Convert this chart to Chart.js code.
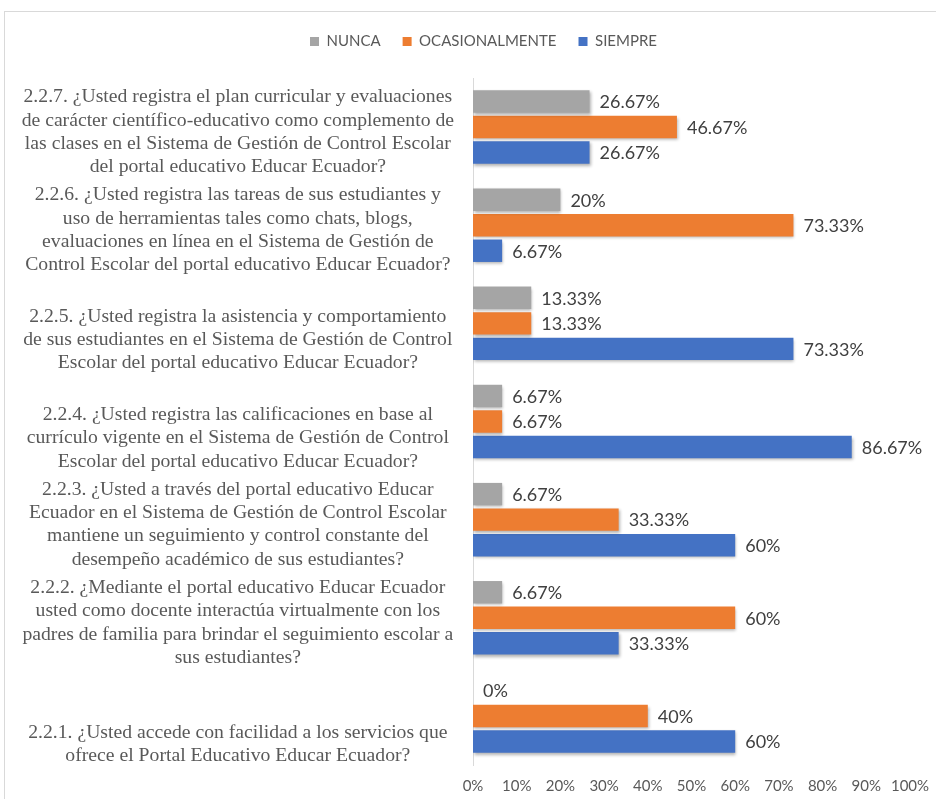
<!DOCTYPE html>
<html>
<head>
<meta charset="utf-8">
<script src="https://cdn.jsdelivr.net/npm/chart.js@4.4.1/dist/chart.umd.min.js"></script>
<style>
  html, body { margin: 0; padding: 0; background: #fff; overflow: hidden; }
  #frame { position: absolute; left: 4px; top: 11px; width: 940px; height: 800px; border: 1px solid #d9d9d9; }
  #frame canvas { display: block; }
</style>
</head>
<body>
<div id="frame"><canvas id="chart" width="931" height="787"></canvas></div>
<script>
// Categories, top to bottom (each one is a list of label lines)
const categories = [
  ['2.2.7. ¿Usted registra el plan curricular y evaluaciones',
   'de carácter científico-educativo como complemento de',
   'las clases en el Sistema de Gestión de Control Escolar',
   'del portal educativo Educar Ecuador?'],
  ['2.2.6. ¿Usted registra las tareas de sus estudiantes y',
   'uso de herramientas tales como chats, blogs,',
   'evaluaciones en línea en el Sistema de Gestión de',
   'Control Escolar del portal educativo Educar Ecuador?'],
  ['2.2.5. ¿Usted registra la asistencia y comportamiento',
   'de sus estudiantes en el Sistema de Gestión de Control',
   'Escolar del portal educativo Educar Ecuador?'],
  ['2.2.4. ¿Usted registra las calificaciones en base al',
   'currículo vigente en el Sistema de Gestión de Control',
   'Escolar del portal educativo Educar Ecuador?'],
  ['2.2.3. ¿Usted a través del portal educativo Educar',
   'Ecuador en el Sistema de Gestión de Control Escolar',
   'mantiene un seguimiento y control constante del',
   'desempeño académico de sus estudiantes?'],
  ['2.2.2. ¿Mediante el portal educativo Educar Ecuador',
   'usted como docente interactúa virtualmente con los',
   'padres de familia para brindar el seguimiento escolar a',
   'sus estudiantes?'],
  ['2.2.1. ¿Usted accede con facilidad a los servicios que',
   'ofrece el Portal Educativo Educar Ecuador?'],
];

const seriesNames = ['NUNCA', 'OCASIONALMENTE', 'SIEMPRE'];
const nunca = [26.67, 20, 13.33, 6.67, 6.67, 6.67, 0];
const ocasionalmente = [46.67, 73.33, 13.33, 6.67, 33.33, 60, 40];
const siempre = [26.67, 6.67, 73.33, 86.67, 60, 33.33, 60];

const xMin = 0;
const xMax = 100;
const xStep = 10;

const colors = ['#A5A5A5', '#ED7D31', '#4472C4'];

// labels sit at the bottom of their band, so pad each one to 4 lines
const paddedLabels = categories.map((lines) => Array(4 - lines.length).fill('').concat(lines));

// a little room under the legend, and nudge it right a bit
const legendGap = {
  id: 'legendGap',
  beforeInit(chart) {
    const fit = chart.legend.fit;
    chart.legend.fit = function () {
      fit.call(this);
      this.height += 19;
    };
  },
  afterLayout(chart) {
    chart.legend.left += 26;
    chart.legend.right += 26;
  },
};

// soft shadow under the bars + value labels
const barDecor = {
  id: 'barDecor',
  beforeDatasetsDraw(chart) {
    const ctx = chart.ctx;
    ctx.save();
    ctx.shadowColor = 'rgba(0,0,0,0.3)';
    ctx.shadowBlur = 3;
    ctx.shadowOffsetX = 1;
    ctx.shadowOffsetY = 2;
  },
  afterDatasetsDraw(chart) {
    const ctx = chart.ctx;
    ctx.restore();
    ctx.save();
    ctx.font = '18px Lato';
    ctx.fillStyle = '#404040';
    ctx.textBaseline = 'middle';
    ctx.textAlign = 'left';
    chart.data.datasets.forEach((ds, i) => {
      chart.getDatasetMeta(i).data.forEach((bar, j) => {
        ctx.fillText(ds.data[j] + '%', bar.x + 10, bar.y + 1);
      });
    });
    ctx.restore();
  },
};

new Chart(document.getElementById('chart'), {
  type: 'bar',
  data: {
    labels: paddedLabels,
    datasets: [
      { label: seriesNames[0], data: nunca, backgroundColor: colors[0] },
      { label: seriesNames[1], data: ocasionalmente, backgroundColor: colors[1] },
      { label: seriesNames[2], data: siempre, backgroundColor: colors[2] },
    ],
  },
  options: {
    indexAxis: 'y',
    responsive: false,
    animation: false,
    categoryPercentage: 0.78,
    barPercentage: 0.88,
    layout: { padding: { left: 0, right: 26, top: 0, bottom: 4 } },
    plugins: {
      tooltip: { enabled: false },
      legend: {
        position: 'top',
        labels: {
          boxWidth: 9,
          boxHeight: 9,
          padding: 22,
          color: '#595959',
          font: { family: 'Lato', size: 15 },
        },
      },
    },
    scales: {
      x: {
        min: xMin,
        max: xMax,
        grid: { display: false, drawTicks: false },
        border: { display: false },
        ticks: {
          stepSize: xStep,
          padding: 12,
          maxRotation: 0,
          color: '#595959',
          font: { family: 'Lato', size: 15 },
          callback: (v) => v + '%',
        },
        afterFit(scale) {
          scale.height = 30;
          scale.paddingLeft = 0;
          scale.paddingRight = 0;
        },
      },
      y: {
        grid: { display: false, drawTicks: false },
        border: { display: true, color: '#d9d9d9' },
        ticks: {
          autoSkip: false,
          crossAlign: 'center',
          padding: 19,
          labelOffset: 5,
          color: '#595959',
          font: { family: '"Liberation Serif", "Times New Roman", serif', size: 19.7, lineHeight: 23.3 / 19.7 },
        },
        afterFit(scale) {
          scale.width = 468;
          scale.paddingTop = 0;
          scale.paddingBottom = 0;
        },
      },
    },
  },
  plugins: [legendGap, barDecor],
});
</script>
</body>
</html>
